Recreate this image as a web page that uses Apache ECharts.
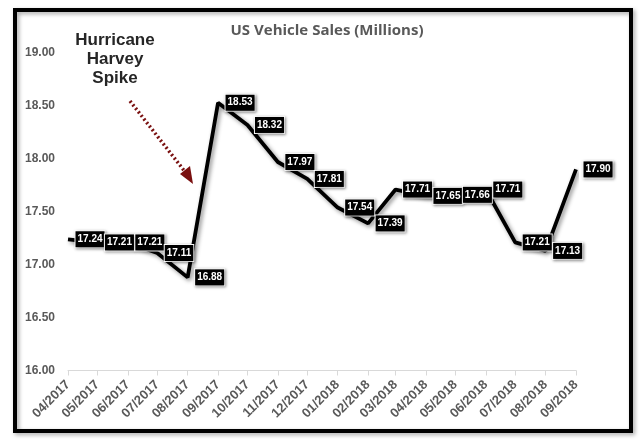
<!DOCTYPE html>
<html><head><meta charset="utf-8">
<script src="https://cdn.jsdelivr.net/npm/echarts@6/dist/echarts.min.js"></script>
<style>html,body{margin:0;padding:0;background:#fff}#c{width:640px;height:444px}</style>
</head><body><div id="c"></div>
<script>
const months = ['2017-04','2017-05','2017-06','2017-07','2017-08','2017-09','2017-10','2017-11','2017-12','2018-01','2018-02','2018-03','2018-04','2018-05','2018-06','2018-07','2018-08','2018-09'];
const sales = [17.24,17.21,17.21,17.11,16.88,18.53,18.32,17.97,17.81,17.54,17.39,17.71,17.65,17.66,17.71,17.21,17.13,17.90];
const yTicks = [16,16.5,17,17.5,18,18.5,19];
const titleText = 'US Vehicle Sales (Millions)';
const noteLines = ['Hurricane','Harvey','Spike'];

function ts(m){const [y,mo]=m.split('-').map(Number);return Date.UTC(y,mo-1,1);}
const data = months.map((m,i)=>[ts(m),sales[i]]);
const DAY=86400000;
const chart = echarts.init(document.getElementById('c'));
chart.setOption({
  useUTC:true,
  animation:false,
  backgroundColor:'#fff',
  title:{text:titleText,left:322,top:18,textAlign:'center',textStyle:{fontFamily:'Open Sans',fontSize:15,fontWeight:'bold',color:'#595959'}},
  grid:{left:68,right:64,top:53,bottom:73.5},
  xAxis:{type:'time',min:ts(months[0]),max:ts(months[months.length-1]),
    minInterval:28*DAY,maxInterval:31*DAY,
    axisLine:{lineStyle:{color:'#d9d9d9',width:1}},
    axisTick:{show:true,length:5,lineStyle:{color:'#d9d9d9'}},
    splitLine:{show:false},
    axisLabel:{rotate:45,fontFamily:'Liberation Sans',fontWeight:'bold',fontSize:13,color:'#595959',margin:12,
      formatter:function(v){const d=new Date(v);const mm=String(d.getUTCMonth()+1).padStart(2,'0');return mm+'/'+d.getUTCFullYear();},
      hideOverlap:false,showMinLabel:true,showMaxLabel:true}
  },
  yAxis:{type:'value',min:yTicks[0],max:yTicks[yTicks.length-1],interval:0.5,
    axisLine:{show:false},axisTick:{show:false},splitLine:{show:false},
    axisLabel:{fontFamily:'Liberation Sans',fontWeight:'bold',fontSize:12,color:'#595959',margin:13,formatter:v=>v.toFixed(2)}
  },
  series:[{type:'line',data:data,symbol:'circle',symbolSize:1,showSymbol:true,
    itemStyle:{color:'rgba(0,0,0,0)',borderWidth:0},
    lineStyle:{color:'#000',width:3.8,shadowColor:'rgba(0,0,0,0.45)',shadowBlur:4,shadowOffsetX:2,shadowOffsetY:2},
    label:{show:true,position:'right',distance:7,formatter:p=>p.value[1].toFixed(2),
      color:'#fff',backgroundColor:'#000',fontFamily:'Liberation Sans',fontWeight:'bold',fontSize:10,padding:[3,2,3,2],
      borderColor:'#fff',borderWidth:1,shadowColor:'rgba(0,0,0,0.4)',shadowBlur:3,shadowOffsetX:1,shadowOffsetY:1},
    labelLayout:{hideOverlap:false}
  }],
  graphic:[
    {type:'rect',shape:{x:15,y:10,width:616,height:421},style:{fill:'none',stroke:'#000',lineWidth:4,shadowColor:'rgba(0,0,0,0.35)',shadowBlur:4,shadowOffsetX:2,shadowOffsetY:2},z:100,silent:true},
    {type:'text',x:115,y:31,style:{text:noteLines.join('\n'),font:'bold 17px "Liberation Sans"',fill:'#262626',align:'center',lineHeight:19,
      shadowColor:'rgba(0,0,0,0.35)',shadowBlur:4,shadowOffsetX:1,shadowOffsetY:2},z:100},
    {type:'line',shape:{x1:130,y1:101,x2:186,y2:173},style:{stroke:'#7a1010',lineWidth:3.5,lineDash:[2,2.5]},z:100},
    {type:'polygon',shape:{points:[[193,184],[180,174],[190,166]]},style:{fill:'#7a1010'},z:100}
  ]
});
</script></body></html>
